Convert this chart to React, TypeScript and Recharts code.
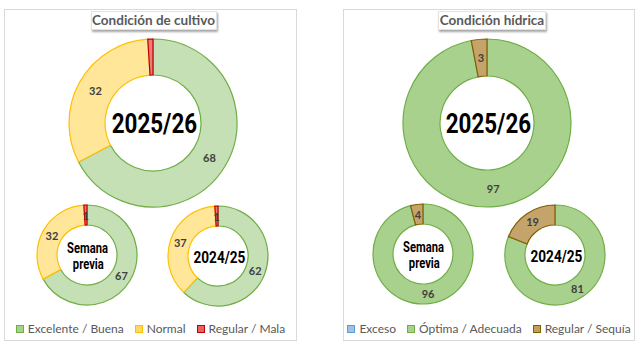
import React from 'react';
import { PieChart, Pie, Cell, Legend } from 'recharts';

// Condición de cultivo (%)
const cultivoNames = ['Excelente / Buena', 'Normal', 'Regular / Mala'];
const cultivoActual = [68, 32, 1];
const cultivoSemanaPrevia = [67, 32, 1];
const cultivoAnterior = [62, 37, 1];

// Condición hídrica (%)
const hidricaNames = ['Exceso', 'Óptima / Adecuada', 'Regular / Sequía'];
const hidricaActual = [0, 97, 3];
const hidricaSemanaPrevia = [0, 96, 4];
const hidricaAnterior = [0, 81, 19];

const cultivoFill = ['#C5E0B4', '#FFE699', '#EE7B7B'];
const cultivoStroke = ['#70AD47', '#FFC000', '#C00000'];
const cultivoLegend = ['#A9D18E', '#FFD966', '#E06666'];
const hidricaFill = ['#9DC3E6', '#A9D18E', '#C4A46A'];
const hidricaStroke = ['#5B9BD5', '#70AD47', '#7F6000'];
const hidricaLegend = ['#9DC3E6', '#A9D18E', '#BF9E5F'];

const RAD = Math.PI / 180;
const FONT = 'Lato, "Open Sans", sans-serif';

const toData = (names: string[], values: number[]) =>
    names.map((name, i) => ({ name, value: values[i] }));

const makeLabel = (hideIndex: number[]) => (props: any) => {
    const { cx, cy, midAngle, innerRadius, outerRadius, value, index } = props;
    if (!value || hideIndex.includes(index)) return null;
    const r = (innerRadius + outerRadius) / 2;
    const x = cx + r * Math.cos(-midAngle * RAD);
    const y = cy + r * Math.sin(-midAngle * RAD);
    return (
        <text x={x} y={y} textAnchor="middle" dominantBaseline="central" fill="#404040"
            style={{ fontFamily: FONT, fontSize: 11, fontWeight: 700 }}>
            {value}
        </text>
    );
};

interface DonutSpec {
    values: number[];
    cx: number;
    cy: number;
    inner: number;
    outer: number;
    hide: number[];
    center: string[];
    centerSize: number;
    lineH: number;
}

interface PanelProps {
    left: number;
    width: number;
    title: string;
    titleWidth: number;
    names: string[];
    fills: string[];
    strokes: string[];
    legendFills: string[];
    donuts: DonutSpec[];
}

function Panel({ left, width, title, titleWidth, names, fills, strokes, legendFills, donuts }: PanelProps) {
    const innerW = width - 2;
    const innerH = 330;
    return (
        <div style={{
            position: 'absolute', left, top: 9, width, height: 332, boxSizing: 'border-box',
            border: '1px solid #D9D9D9', background: '#fff',
        }}>
            <PieChart width={innerW} height={innerH} margin={{ top: 0, right: 0, bottom: 0, left: 0 }}>
                {donuts.map((d, k) => (
                    <Pie key={k} data={toData(names, d.values)} dataKey="value" nameKey="name"
                        cx={d.cx} cy={d.cy} innerRadius={d.inner} outerRadius={d.outer}
                        startAngle={90} endAngle={-270} isAnimationActive={false}
                        labelLine={false} label={makeLabel(d.hide)} legendType="none">
                        {d.values.map((v, i) => (
                            <Cell key={i} fill={fills[i]} stroke={v ? strokes[i] : 'none'} strokeWidth={1.2} />
                        ))}
                    </Pie>
                ))}
                <Legend verticalAlign="bottom" wrapperStyle={{ bottom: 3, left: 0, width: innerW }}
                    content={() => (
                        <div style={{
                            display: 'flex', justifyContent: 'center', gap: 11, whiteSpace: 'nowrap',
                            fontFamily: FONT, fontSize: 12, lineHeight: '16px', color: '#595959',
                        }}>
                            {names.map((n, i) => (
                                <span key={n} style={{ display: 'flex', alignItems: 'center', flexShrink: 0 }}>
                                    <span style={{
                                        display: 'inline-block', width: 6, height: 6, marginRight: 4,
                                        background: legendFills[i], border: `1px solid ${strokes[i]}`,
                                    }} />
                                    {n}
                                </span>
                            ))}
                        </div>
                    )} />
            </PieChart>
            {donuts.map((d, k) => (
                <div key={k} style={{
                    position: 'absolute', left: d.cx + 1 - 60, top: d.cy + 1 - 30, width: 120, height: 60,
                    display: 'flex', flexDirection: 'column', alignItems: 'center', justifyContent: 'center',
                    fontFamily: 'Roboto, sans-serif', fontWeight: 700, fontSize: d.centerSize,
                    lineHeight: `${d.lineH}px`, color: '#000', pointerEvents: 'none',
                }}>
                    {d.center.map((line) => (
                        <div key={line} style={{ transform: 'scaleX(0.8)' }}>{line}</div>
                    ))}
                </div>
            ))}
            <div style={{
                position: 'absolute', left: (width - titleWidth) / 2 + 2, top: 1, width: titleWidth, height: 19,
                boxSizing: 'border-box', background: '#fff', border: '1px solid #E3E3E3',
                boxShadow: '1px 2px 2px rgba(0,0,0,0.35)', textAlign: 'center',
                fontFamily: FONT, fontWeight: 700, fontSize: 13.5, lineHeight: '17px', color: '#595959',
            }}>
                {title}
            </div>
        </div>
    );
}

export default function App() {
    return (
        <div style={{ position: 'absolute', left: 0, top: 0, width: 640, height: 347, background: '#fff' }}>
            <Panel left={4} width={293} title="Condición de cultivo" titleWidth={126}
                names={cultivoNames} fills={cultivoFill} strokes={cultivoStroke} legendFills={cultivoLegend}
                donuts={[
                    { values: cultivoActual, cx: 148, cy: 113, inner: 48, outer: 84, hide: [2], center: ['2025/26'], centerSize: 28, lineH: 30 },
                    { values: cultivoSemanaPrevia, cx: 82, cy: 245, inner: 30, outer: 50, hide: [], center: ['Semana', 'previa'], centerSize: 14, lineH: 16 },
                    { values: cultivoAnterior, cx: 213, cy: 246, inner: 30, outer: 50, hide: [], center: ['2024/25'], centerSize: 17, lineH: 18 },
                ]} />
            <Panel left={343} width={292} title="Condición hídrica" titleWidth={108}
                names={hidricaNames} fills={hidricaFill} strokes={hidricaStroke} legendFills={hidricaLegend}
                donuts={[
                    { values: hidricaActual, cx: 143, cy: 113, inner: 47, outer: 84, hide: [], center: ['2025/26'], centerSize: 28, lineH: 30 },
                    { values: hidricaSemanaPrevia, cx: 79, cy: 244, inner: 30, outer: 50, hide: [], center: ['Semana', 'previa'], centerSize: 14, lineH: 16 },
                    { values: hidricaAnterior, cx: 211, cy: 245, inner: 30, outer: 50, hide: [], center: ['2024/25'], centerSize: 17, lineH: 18 },
                ]} />
        </div>
    );
}
